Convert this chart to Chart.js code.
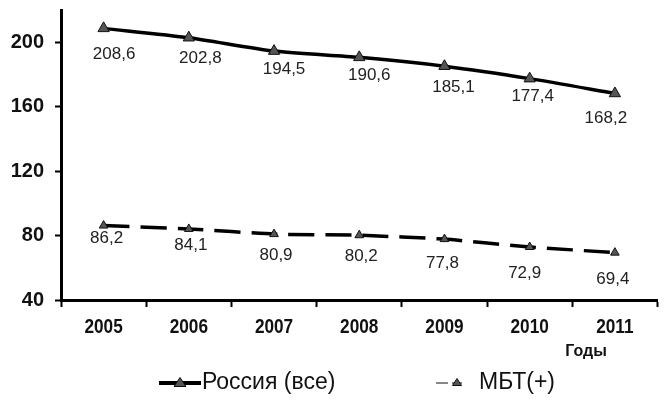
<!DOCTYPE html>
<html><head><meta charset="utf-8">
<script src="https://cdn.jsdelivr.net/npm/chart.js@4/dist/chart.umd.min.js"></script>
<style>html,body{margin:0;padding:0;background:#fff}#wrap{width:665px;height:401px}</style>
</head><body><div id="wrap"><canvas id="c"></canvas></div>
<script>
const years = ['2005','2006','2007','2008','2009','2010','2011'];
const russia = [208.6, 202.8, 194.5, 190.6, 185.1, 177.4, 168.2];
const mbt = [86.2, 84.1, 80.9, 80.2, 77.8, 72.9, 69.4];
const seriesNames = ['Россия (все)', 'МБТ(+)'];
const yTicks = [40, 80, 120, 160, 200];
const axisTitle = 'Годы';

// label placement (pixels, relative to each point)
const labelDx = [[10.5, 11.5, 10, 10, 9, 3, -9], [3, 2, 2, 2, -2, -5, -2]];
const labelDy = [[26, 20.5, 18, 18, 21, 17.5, 25], [13, 16, 21, 21, 24, 26, 27]];

function tri(ctx, x, y, w, h, fill) {
  ctx.beginPath();
  ctx.moveTo(x, y - h / 2);
  ctx.lineTo(x + w / 2, y + h / 2);
  ctx.lineTo(x - w / 2, y + h / 2);
  ctx.closePath();
  ctx.fillStyle = fill; ctx.fill();
  ctx.lineWidth = 1; ctx.strokeStyle = '#111'; ctx.stroke();
}

const extras = {
  id: 'extras',
  afterDraw(chart) {
    const ctx = chart.ctx;
    ctx.save();
    // x tick labels (condensed bold)
    const xs = chart.scales.x;
    ctx.font = 'bold 21px "Liberation Sans", sans-serif';
    ctx.fillStyle = '#111';
    ctx.textAlign = 'center'; ctx.textBaseline = 'middle';
    chart.data.labels.forEach((lab, i) => {
      const x = xs.getPixelForTick(i);
      ctx.save();
      ctx.translate(x, 327.5);
      ctx.scale(0.82, 1);
      ctx.fillText(lab, 0, 0);
      ctx.restore();
    });
    // data labels
    ctx.font = '17px "Liberation Sans", sans-serif';
    ctx.fillStyle = '#222';
    chart.data.datasets.forEach((ds, di) => {
      const meta = chart.getDatasetMeta(di);
      meta.data.forEach((pt, i) => {
        ctx.fillText(String(ds.data[i]).replace('.', ','), pt.x + labelDx[di][i], pt.y + labelDy[di][i]);
      });
    });
    // axis title
    ctx.font = 'bold 16px "Liberation Sans", sans-serif';
    ctx.fillStyle = '#111';
    ctx.fillText(axisTitle, 586, 352);
    // legend
    const ly = 383;
    ctx.strokeStyle = '#000'; ctx.lineWidth = 4;
    ctx.beginPath(); ctx.moveTo(159, ly); ctx.lineTo(201, ly); ctx.stroke();
    tri(ctx, 180, ly - 1, 12, 9, '#555');
    ctx.beginPath(); ctx.moveTo(436, ly); ctx.lineTo(448, ly); ctx.stroke();
    ctx.beginPath(); ctx.moveTo(452, ly); ctx.lineTo(462, ly); ctx.stroke();
    tri(ctx, 457, ly - 1, 9, 7, '#555');
    ctx.font = '23px "Liberation Sans", sans-serif';
    ctx.fillStyle = '#111';
    ctx.textAlign = 'left';
    ctx.fillText(chart.data.datasets[0].label, 202, ly);
    ctx.fillText(chart.data.datasets[1].label, 479, ly);
    ctx.restore();
  }
};

new Chart(document.getElementById('c'), {
  type: 'line',
  data: {
    labels: years,
    datasets: [
      { label: seriesNames[0], data: russia, borderColor: '#000', borderWidth: 3.5, tension: 0.25,
        pointStyle: 'triangle', pointRadius: 6.5, pointBackgroundColor: '#555', pointBorderColor: '#111', pointBorderWidth: 1 },
      { label: seriesNames[1], data: mbt, borderColor: '#000', borderWidth: 3.5, borderDash: [26, 11], tension: 0.15,
        pointStyle: 'triangle', pointRadius: 5, pointBackgroundColor: '#555', pointBorderColor: '#111', pointBorderWidth: 1 }
    ]
  },
  options: {
    responsive: true, maintainAspectRatio: false, animation: false,
    layout: { padding: { top: 10, right: 2, left: 0, bottom: 0 } },
    plugins: { legend: { display: false }, tooltip: { enabled: false } },
    scales: {
      x: {
        offset: true,
        grid: { display: true, drawOnChartArea: false, drawTicks: true, tickLength: 7, tickColor: '#000', tickWidth: 2, offset: true },
        border: { display: true, color: '#000', width: 3 },
        ticks: { display: false },
        afterFit(s) { s.height = 101; s.paddingLeft = 0; s.paddingRight = 0; }
      },
      y: {
        min: 40, max: 220,
        afterBuildTicks(s) { s.ticks = yTicks.map(v => ({ value: v })); },
        grid: { display: true, drawOnChartArea: false, drawTicks: true, tickLength: 6, tickColor: '#000', tickWidth: 2 },
        border: { display: true, color: '#000', width: 3 },
        ticks: { color: '#111', font: { family: '"Liberation Sans", sans-serif', size: 20, weight: 'bold' }, padding: 11 },
        afterFit(s) { s.width = 61; s.paddingTop = 0; s.paddingBottom = 0; }
      }
    }
  },
  plugins: [extras]
});
</script></body></html>
